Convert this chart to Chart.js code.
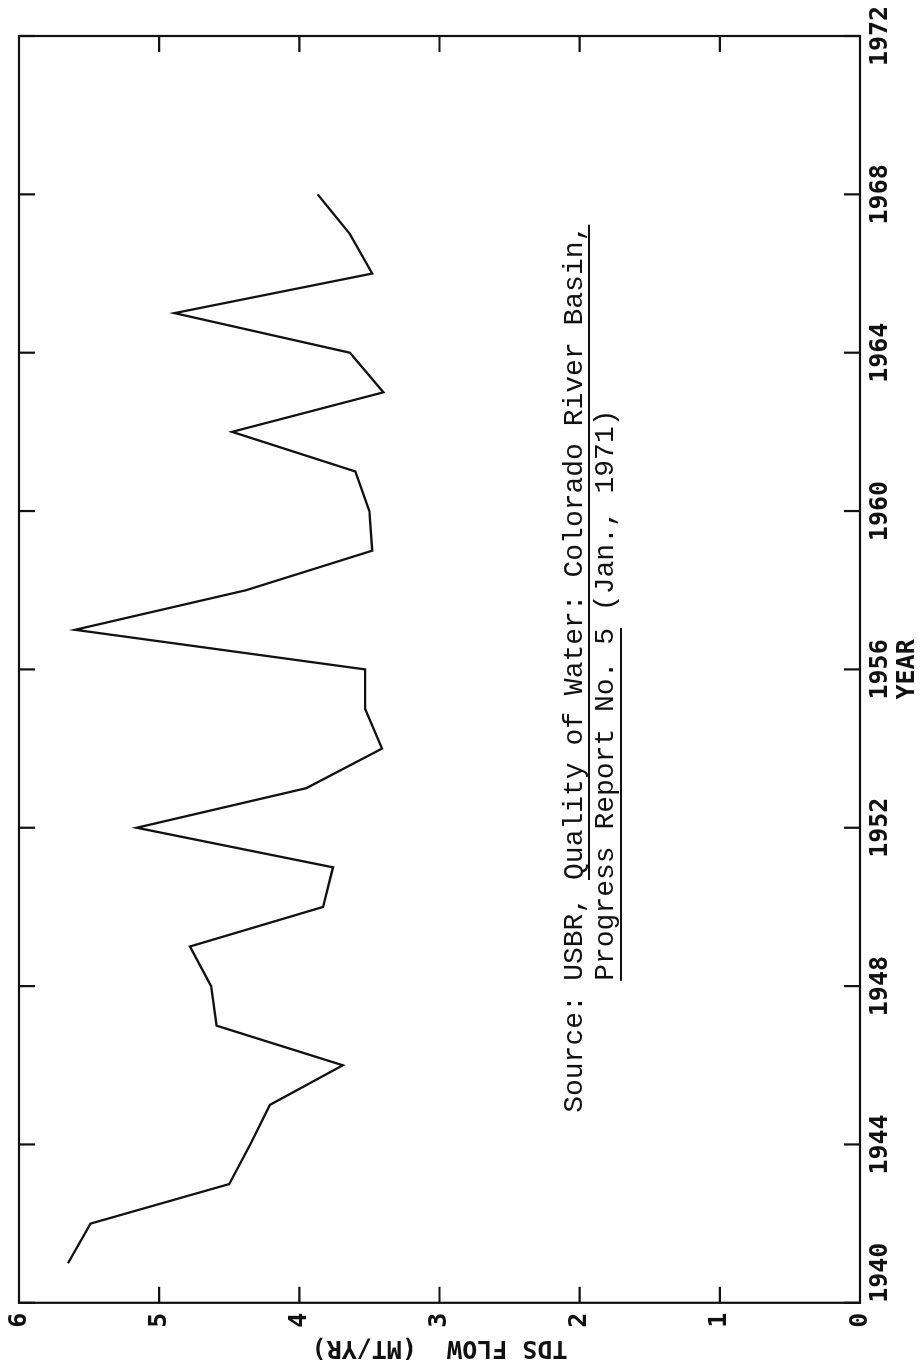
<!DOCTYPE html>
<html><head><meta charset="utf-8">
<script src="https://cdn.jsdelivr.net/npm/chart.js@4/dist/chart.umd.min.js"></script>
<style>
html,body{margin:0;padding:0;background:#fff;overflow:hidden;width:922px;height:1368px;}
#wrap{position:absolute;left:0;top:0;width:1368px;height:922px;transform-origin:0 0;transform:translate(0,1368px) rotate(-90deg);background:#fff;}
canvas{display:block;}
</style></head><body>
<div id="wrap"><canvas id="c" width="1368" height="922"></canvas></div>
<script>
// ---- data ----
const years = [1941,1942,1943,1944,1945,1946,1947,1948,1949,1950,1951,1952,1953,1954,1955,1956,1957,1958,1959,1960,1961,1962,1963,1964,1965,1966,1967,1968];
const tdsFlow = [5.65,5.49,4.50,4.35,4.21,3.69,4.59,4.63,4.78,3.83,3.76,5.16,3.95,3.41,3.53,3.53,5.60,4.38,3.48,3.50,3.60,4.48,3.40,3.64,4.89,3.48,3.64,3.87];
const yearTicks = [1940,1944,1948,1952,1956,1960,1964,1968,1972];
const flowTicks = [0,1,2,3,4,5,6];
const xTitle = 'YEAR';
const yTitle = 'TDS FLOW  (MT/YR)';
const sourceLabel = 'Source:';
const sourceLine1 = ['USBR, ', 'Quality of Water: Colorado River Basin,'];
const sourceLine2 = ['Progress Report No. 5', ' (Jan., 1971)'];

const INK = '#111';
Chart.defaults.font.family = "'DejaVu Sans Mono', monospace";
Chart.defaults.color = INK;

const frameTicks = {
  id: 'frameTicks',
  afterDatasetsDraw(chart) {
    const {ctx, chartArea: a, scales: {x, y}} = chart;
    ctx.save();
    ctx.strokeStyle = INK; ctx.lineWidth = 2.2;
    ctx.strokeRect(a.left, a.top, a.right - a.left, a.bottom - a.top);
    const L = 16;
    ctx.beginPath();
    x.ticks.forEach(t => {
      const p = x.getPixelForValue(t.value);
      ctx.moveTo(p, a.bottom); ctx.lineTo(p, a.bottom - L);
      ctx.moveTo(p, a.top); ctx.lineTo(p, a.top + L);
    });
    y.ticks.forEach(t => {
      const p = y.getPixelForValue(t.value);
      ctx.moveTo(a.left, p); ctx.lineTo(a.left + L, p);
      ctx.moveTo(a.right, p); ctx.lineTo(a.right - L, p);
    });
    ctx.stroke();
    ctx.restore();
  }
};

const sourceNote = {
  id: 'sourceNote',
  afterDraw(chart) {
    const {ctx, chartArea: a} = chart;
    ctx.save();
    ctx.fillStyle = INK;
    ctx.font = "28px 'Liberation Mono', 'Courier New', monospace";
    ctx.textBaseline = 'alphabetic';
    ctx.textAlign = 'left';
    const x0 = a.left + 322;
    const b1 = a.top + 563, b2 = a.top + 594;
    ctx.fillText(sourceLabel, a.left + 190, b1);
    const w0 = ctx.measureText(sourceLine1[0]).width;
    const w1 = ctx.measureText(sourceLine1[1]).width;
    ctx.fillText(sourceLine1[0] + sourceLine1[1], x0, b1);
    ctx.fillRect(x0 + w0, b1 + 6, w1, 2);
    const v0 = ctx.measureText(sourceLine2[0]).width;
    ctx.fillText(sourceLine2[0] + sourceLine2[1], x0, b2);
    ctx.fillRect(x0, b2 + 7, v0, 2);
    ctx.restore();
  }
};

new Chart(document.getElementById('c'), {
  type: 'line',
  data: {
    datasets: [{
      data: years.map((yr, i) => ({x: yr, y: tdsFlow[i]})),
      borderColor: INK,
      borderWidth: 2.3,
      pointRadius: 0,
      tension: 0,
      fill: false
    }]
  },
  options: {
    responsive: false,
    animation: false,
    devicePixelRatio: 1,
    layout: {padding: {top: 19, right: 36, bottom: 0, left: 0}},
    plugins: {legend: {display: false}, tooltip: {enabled: false}, title: {display: false}},
    scales: {
      x: {
        type: 'linear', position: 'bottom', min: 1940, max: 1972,
        afterBuildTicks: s => { s.ticks = yearTicks.map(v => ({value: v})); },
        afterFit: s => { s.height = 62; },
        grid: {display: false, drawTicks: false},
        border: {display: false},
        ticks: {
          autoSkip: false, maxRotation: 0, minRotation: 0, padding: 5, color: INK,
          font: {size: 25, weight: 'bold', lineHeight: 1.2},
          callback: v => (v === yearTicks[0] ? '    ' + v : String(v))
        },
        title: {display: true, text: xTitle, color: INK, font: {size: 25, weight: 'bold', lineHeight: 1.0}, padding: {top: 0, bottom: 2}}
      },
      y: {
        type: 'linear', position: 'left', min: 0, max: 6,
        afterBuildTicks: s => { s.ticks = flowTicks.map(v => ({value: v})); },
        afterFit: s => { s.width = 65; },
        grid: {display: false, drawTicks: false},
        border: {display: false},
        ticks: {padding: 10, color: INK, font: {size: 25, weight: 'bold', lineHeight: 0.72}},
        title: {display: true, text: yTitle, color: INK, font: {size: 25, weight: 'bold', lineHeight: 1.2}, padding: {top: 5, bottom: 0}}
      }
    }
  },
  plugins: [frameTicks, sourceNote]
});
</script>
</body></html>
